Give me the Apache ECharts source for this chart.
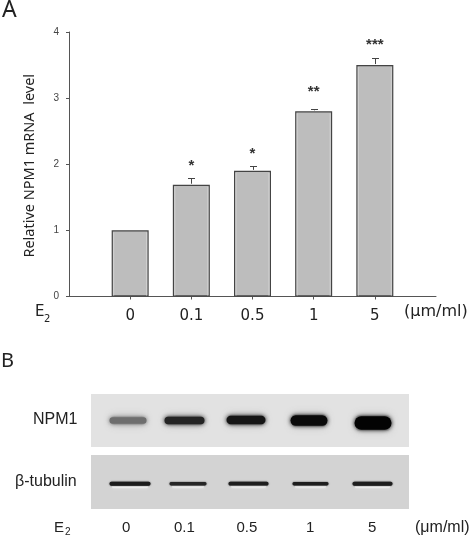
<!DOCTYPE html>
<html><head><meta charset="utf-8">
<style>html,body{margin:0;padding:0;background:#fff}#c{width:472px;height:537px}</style>
<script src="https://cdn.jsdelivr.net/npm/echarts@6/dist/echarts.min.js"></script>
</head><body><div id="c"></div>
<script>
var axisCats = ['', '0','0.1','0.5','1','5',''];
var mrna = [1.0,1.69,1.9,2.8,3.5];
var errTop = [null,1.79,1.98,2.84,3.61];
var stars = ['', '*','*','**','***'];
var starY = [null,1.97,2.155,3.1,3.81];
var yTicks = [0,1,2,3,4];
// blot lanes: centre along the panel, vertical offset, width, height, darkness
var npmLane = [37,93.5,155,218,282];
var npmOffset = [0,0,0.5,0,-2.5];
var npmWidth = [40,43,42,40,40];
var npmHeight = [6.5,7.5,8.5,10.5,13.5];
var npmDark = ['#6e6e6e','#242424','#161616','#0a0a0a','#030303'];
var tubLane = [39,97,157.5,219.5,281.5];
var tubOffset = [-1.7,-1.7,-1.7,-1.7,-1.7];
var tubWidth = [44,40,43,39,43];
var tubHeight = [4,3.4,3.8,3.4,4];
var tubDark = ['#1c1c1c','#262626','#1e1e1e','#1e1e1e','#1e1e1e'];
function bandSeries(g, lane, off, w, h, dark, halo){
  return {type:'custom',xAxisIndex:g,yAxisIndex:g,coordinateSystem:'cartesian2d',silent:true,
    data:lane.map(function(x,i){return [x,off[i],w[i],h[i]];}),
    encode:{x:0,y:1},
    renderItem:function(p,api){
      var c=api.coord([api.value(0),api.value(1)]);
      var W=api.value(2),H=api.value(3),col=dark[p.dataIndex];
      var kids=[];
      if(halo){
        kids.push({type:'rect',shape:{x:c[0]-W/2+4,y:c[1]+H/2-0.5,width:W-8,height:2.5,r:1},style:{fill:'#f4f4f4',shadowBlur:3,shadowColor:'#f4f4f4'}});
      } else {
        kids.push({type:'rect',shape:{x:c[0]-W/2+3,y:c[1]-H/2-1,width:W-6,height:H+2,r:3},style:{fill:'#bcbcbc',shadowBlur:9,shadowColor:'#bcbcbc'}});
      }
      kids.push({type:'rect',shape:{x:c[0]-W/2+1.5,y:c[1]-H/2,width:W-3,height:H,r:H/2},style:{fill:col,shadowBlur:halo?1.5:4,shadowColor:col}});
      return {type:'group',children:kids};
    }};
}
var hiddenX=function(g){return {gridIndex:g,type:'value',min:0,max:318,show:false};};
var hiddenY=function(g){return {gridIndex:g,type:'value',min:-27,max:27,show:false};};
var chart=echarts.init(document.getElementById('c'),null,{renderer:'canvas'});
var txt=function(x,y,t,size,font){return {type:'text',left:x,top:y,silent:true,style:{text:t,font:size+'px '+font,fill:'#222'}};};
var sans='"Liberation Sans"', dv='"DejaVu Sans"', noto='"Noto Sans"';
chart.setOption({
  animation:false,backgroundColor:'#fff',
  grid:[
    {left:69,top:32,width:367,height:264.5},
    {left:91,top:394,width:318,height:53,show:true,backgroundColor:'#e2e2e2',borderWidth:0},
    {left:91,top:455,width:318,height:54,show:true,backgroundColor:'#d3d3d3',borderWidth:0}
  ],
  xAxis:[
    {gridIndex:0,type:'category',data:axisCats,boundaryGap:false,
     axisLine:{lineStyle:{color:'#555',width:1}},
     axisTick:{length:3,alignWithLabel:true,interval:function(i){return i>0&&i<6;},lineStyle:{color:'#555'}},
     axisLabel:{interval:0,margin:11,color:'#222',fontFamily:dv,fontSize:15,lineHeight:17}},
    hiddenX(1),hiddenX(2)
  ],
  yAxis:[
    {gridIndex:0,type:'value',min:0,max:4,interval:1,
     name:'Relative NPM1 mRNA  level',nameLocation:'middle',nameGap:32,nameRotate:90,
     nameTextStyle:{color:'#222',fontFamily:noto,fontSize:14.5,padding:[0,3,0,0]},
     axisLine:{show:true,lineStyle:{color:'#555',width:1}},
     axisTick:{show:true,length:3,lineStyle:{color:'#555'}},
     splitLine:{show:false},
     axisLabel:{margin:10,color:'#444',fontFamily:sans,fontSize:10,formatter:function(v){return yTicks.indexOf(v)>=0?String(v):'';}}},
    hiddenY(1),hiddenY(2)
  ],
  series:[
    {type:'bar',xAxisIndex:0,yAxisIndex:0,barWidth:37,z:2,
     data:[null].concat(mrna),
     itemStyle:{color:'#bdbdbd',borderColor:'#444',borderWidth:1.2}},
    {type:'custom',xAxisIndex:0,yAxisIndex:0,z:3,silent:true,clip:false,
     data:errTop.map(function(t,i){return [i+1,mrna[i]];}),
     encode:{x:0,y:1},
     renderItem:function(p,api){
       var i=p.dataIndex, kids=[];
       var top=errTop[i];
       var a=api.coord([i+1,mrna[i]]),o=api.coord([i+1,0]);
       [-16.5,16.5].forEach(function(dx){
         kids.push({type:'line',shape:{x1:a[0]+dx,y1:a[1]+2,x2:a[0]+dx,y2:o[1]-1},style:{stroke:'#d2d2d2',lineWidth:1}});
       });
       if(top!=null){
         var b=api.coord([i+1,top]);
         var x=Math.round(a[0])+0.5,yb=Math.round(b[1])+0.5;
         var st={stroke:'#444',lineWidth:1};
         kids.push({type:'line',shape:{x1:x,y1:a[1]-1,x2:x,y2:yb},style:st});
         kids.push({type:'line',shape:{x1:x-3.5,y1:yb,x2:x+3.5,y2:yb},style:st});
       }
       if(stars[i]){
         var s=api.coord([i+1,starY[i]]);
         kids.push({type:'text',x:s[0],y:s[1],style:{text:stars[i],font:'bold 15px '+sans,fill:'#333',align:'center',verticalAlign:'middle'}});
       }
       return {type:'group',children:kids};
     }},
    bandSeries(1,npmLane,npmOffset,npmWidth,npmHeight,npmDark,false),
    bandSeries(2,tubLane,tubOffset,tubWidth,tubHeight,tubDark,true)
  ],
  graphic:[
    txt(2,-1,'A',23,noto),
    txt(1,351,'B',20,noto),
    txt(35,305,'E',15,dv),
    txt(44,314,'2',10,dv),
    txt(404,304,'(μm/ml)',16,dv),
    txt(33,412,'NPM1',16,sans),
    txt(15,474,'β-tubulin',16,sans),
    txt(54,520,'E',15,sans),
    txt(65,527,'2',10,sans),
    txt(122,520,'0',15,sans),
    txt(174,520,'0.1',15,sans),
    txt(236.5,520,'0.5',15,sans),
    txt(306,520,'1',15,sans),
    txt(368,520,'5',15,sans),
    txt(415,520,'(μm/ml)',16,sans)
  ]
});
</script></body></html>
